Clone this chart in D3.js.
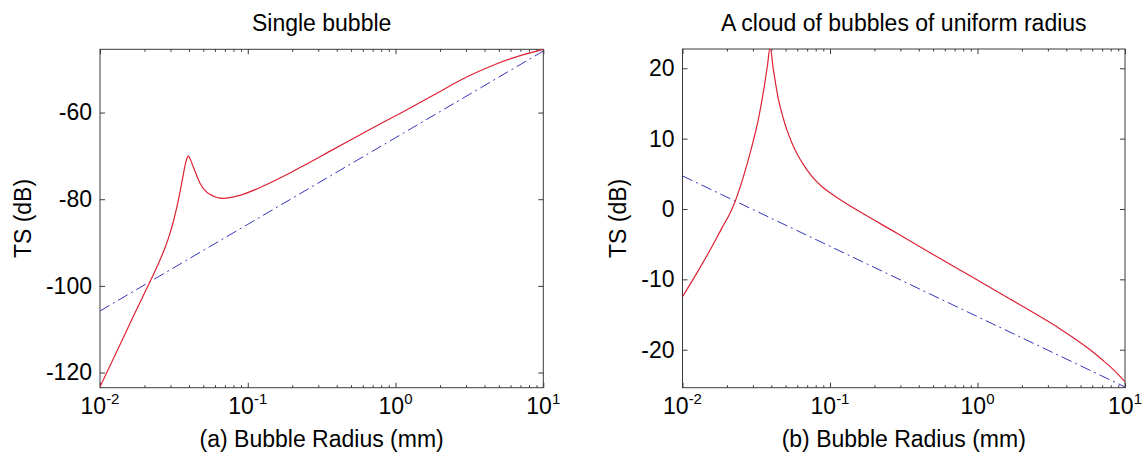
<!DOCTYPE html>
<html>
<head>
<meta charset="utf-8">
<script src="https://cdn.jsdelivr.net/npm/d3@7"></script>
<style>
  body { margin: 0; background: #fff; }
  text { font-family: "Liberation Sans", Arial, sans-serif; fill: #000; }
</style>
</head>
<body>
<div id="chart"></div>
<script>
const width = 1144;
const height = 458;

// (a) single bubble: red = full model, blue = geometric
const radiusA = [0.01, 0.0133, 0.01726, 0.02239, 0.02512, 0.02754, 0.02951, 0.03133, 0.03311,
  0.03475, 0.03631, 0.03758, 0.03873, 0.03954, 0.04074, 0.04276, 0.04753, 0.05495, 0.06823,
  0.08851, 0.1211, 0.1652, 0.2254, 0.3793, 0.6368, 1.072, 1.799, 3.027, 4.71, 7.079, 10];
const tsA = [-123.3, -114.4, -106.2, -98.2, -94.5, -91.2, -88.3, -85.2, -81.8,
  -78.4, -75.0, -72.3, -70.6, -70.0, -70.7, -72.5, -76.3, -78.8, -79.8,
  -79.1, -77.3, -75.1, -72.7, -68.5, -64.3, -60.2, -56.0, -51.8, -48.9, -46.8, -45.4];
const radiusGeoA = [0.01, 0.1, 1, 10];
const tsGeoA = [-105.8, -85.8, -65.8, -45.8];

// (b) cloud of bubbles
const radiusB = [0.01, 0.01247, 0.01538, 0.01845, 0.02099, 0.0227, 0.02588, 0.02951, 0.03273,
  0.03532, 0.03767, 0.03926, 0.0413, 0.04295, 0.04467, 0.04677, 0.04898, 0.05129, 0.05495,
  0.06026, 0.06607, 0.07244, 0.07943, 0.08913, 0.1, 0.1175, 0.138, 0.1596, 0.2844, 0.5035,
  0.8492, 1.585, 2.812, 3.548, 4.467, 5.623, 7.079, 8.511, 10];
const tsB = [-12.47, -9.15, -5.83, -2.75, -0.6, 1.04, 4.6, 8.86, 12.8,
  16.6, 20.4, 23.0, 19.8, 17.6, 15.6, 13.9, 12.4, 11.1, 9.5,
  7.7, 6.3, 5.1, 4.1, 3.1, 2.3, 1.3, 0.4, -0.4, -3.45, -6.5,
  -9.25, -12.55, -15.6, -16.9, -18.3, -19.8, -21.5, -23.0, -24.55];
const radiusGeoB = [0.01, 0.1, 1, 10];
const tsGeoB = [4.7, -5.3, -15.3, -25.3];

const xDecades = [0.01, 0.1, 1, 10];
const xExponents = ["-2", "-1", "0", "1"];
const yTicksA = [-120, -100, -80, -60];
const yTicksB = [-20, -10, 0, 10, 20];

const panels = [
  { id: "a", title: "Single bubble", xlabel: "(a) Bubble Radius (mm)",
    box: [100, 543.3, 49.3, 387.7], ydom: [-123.5, -45.4], yticks: yTicksA,
    r: radiusA, ts: tsA, rg: radiusGeoA, tg: tsGeoA, ylabelX: 31 },
  { id: "b", title: "A cloud of bubbles of uniform radius", xlabel: "(b) Bubble Radius (mm)",
    box: [682.5, 1125, 49, 387.7], ydom: [-25.4, 22.74], yticks: yTicksB,
    r: radiusB, ts: tsB, rg: radiusGeoB, tg: tsGeoB, ylabelX: 626 }
];

const axisColor = "#3a3a3a";

const svg = d3.select("#chart").append("svg")
  .attr("width", width)
  .attr("height", height);

panels.forEach((p) => {
  const [x0, x1, y0, y1] = p.box;
  const xScale = d3.scaleLog().domain([0.01, 10]).range([x0, x1]);
  const yScale = d3.scaleLinear().domain(p.ydom).range([y1, y0]);
  const minor = xScale.ticks().filter((t) => !xDecades.some((d) => Math.abs(d - t) < 1e-9));

  const g = svg.append("g");

  g.append("clipPath").attr("id", "clip-" + p.id)
    .append("rect").attr("x", x0).attr("y", y0).attr("width", x1 - x0).attr("height", y1 - y0);

  // axes: ticks point inward on every side
  const addAxis = (axis, tr, values, size, labels) => {
    const a = axis.tickValues(values).tickSize(size).tickSizeOuter(0);
    if (!labels) a.tickFormat("");
    const ag = g.append("g").attr("transform", tr).call(a);
    ag.select(".domain").remove();
    ag.selectAll("line").attr("stroke", axisColor);
    return ag;
  };
  addAxis(d3.axisBottom(xScale), `translate(0,${y1})`, xDecades, -5, false);
  addAxis(d3.axisBottom(xScale), `translate(0,${y1})`, minor, -2.5, false);
  addAxis(d3.axisTop(xScale), `translate(0,${y0})`, xDecades, -5, false);
  addAxis(d3.axisTop(xScale), `translate(0,${y0})`, minor, -2.5, false);
  addAxis(d3.axisRight(yScale), `translate(${x1},0)`, p.yticks, -5, false);
  const yAxisG = addAxis(
    d3.axisLeft(yScale).tickPadding(8).tickFormat((d) => String(d)),
    `translate(${x0},0)`, p.yticks, -5, true);
  yAxisG.attr("font-size", null).attr("font-family", null);
  yAxisG.selectAll("text").style("font-size", "23px").attr("fill", "#000");

  g.append("rect")
    .attr("x", x0).attr("y", y0).attr("width", x1 - x0).attr("height", y1 - y0)
    .attr("fill", "none").attr("stroke", axisColor).attr("stroke-width", 1);

  // x tick labels with exponents
  const xl = g.selectAll(".xlab").data(xDecades).enter().append("text")
    .attr("class", "xlab")
    .attr("x", (d) => xScale(d))
    .attr("y", y1 + 26)
    .attr("text-anchor", "middle")
    .style("font-size", "23px");
  xl.append("tspan").text("10");
  xl.append("tspan").attr("dy", -9.5).style("font-size", "15px").text((d, i) => xExponents[i]);

  // curves
  const line = d3.line().x((d) => xScale(d[0])).y((d) => yScale(d[1]));
  const curveG = g.append("g").attr("clip-path", `url(#clip-${p.id})`);
  curveG.append("path")
    .datum(p.rg.map((r, i) => [r, p.tg[i]]))
    .attr("d", line)
    .attr("fill", "none")
    .attr("stroke", "#3535b8")
    .attr("stroke-width", 1)
    .attr("stroke-dasharray", "11,4,2,4");
  curveG.append("path")
    .datum(p.r.map((r, i) => [r, p.ts[i]]))
    .attr("d", line.curve(d3.curveMonotoneX))
    .attr("fill", "none")
    .attr("stroke", "#dd2233")
    .attr("stroke-width", 1.2);

  // titles and labels
  g.append("text")
    .attr("x", (x0 + x1) / 2).attr("y", 31)
    .attr("text-anchor", "middle")
    .style("font-size", "23px")
    .text(p.title);
  g.append("text")
    .attr("x", (x0 + x1) / 2).attr("y", 447)
    .attr("text-anchor", "middle")
    .style("font-size", "23px")
    .text(p.xlabel);
  g.append("text")
    .attr("transform", `translate(${p.ylabelX},${(y0 + y1) / 2}) rotate(-90)`)
    .attr("text-anchor", "middle")
    .style("font-size", "23px")
    .text("TS (dB)");
});
</script>
</body>
</html>
